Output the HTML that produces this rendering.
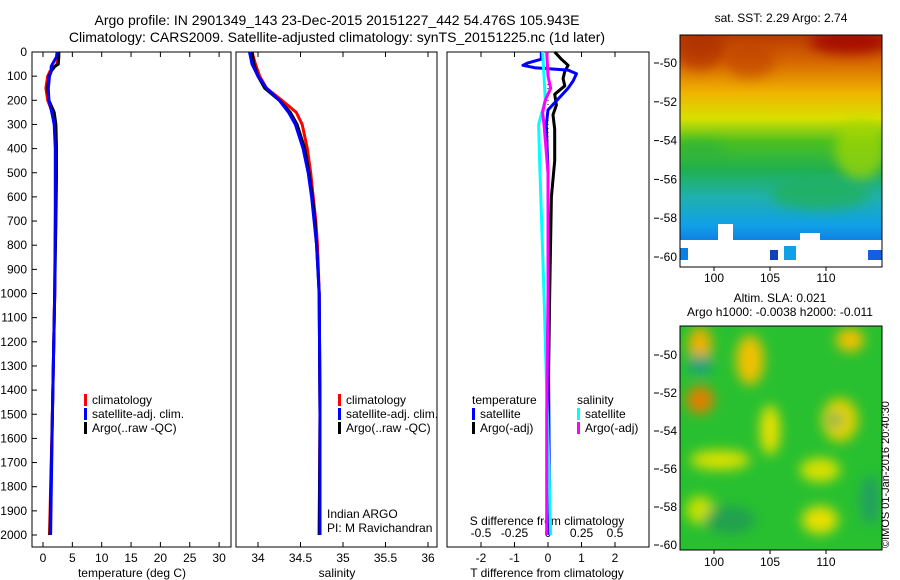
<!DOCTYPE html>
<html><head><meta charset="utf-8">
<style>
body{margin:0;background:#fff;}
svg{display:block;font-family:"Liberation Sans",sans-serif;}
text{fill:#000;}
</style></head>
<body>
<svg id="fig" width="900" height="580" viewBox="0 0 900 580" xmlns="http://www.w3.org/2000/svg">
<defs>
<linearGradient id="sstg" x1="0" y1="0" x2="0" y2="1">
<stop offset="0" stop-color="#b83a00"/>
<stop offset="0.12" stop-color="#d86a00"/>
<stop offset="0.25" stop-color="#f0b400"/>
<stop offset="0.36" stop-color="#d8e000"/>
<stop offset="0.46" stop-color="#4cc020"/>
<stop offset="0.58" stop-color="#20b050"/>
<stop offset="0.7" stop-color="#20b0b0"/>
<stop offset="0.82" stop-color="#10a0e8"/>
<stop offset="0.92" stop-color="#1070e0"/>
<stop offset="1" stop-color="#1040c0"/>
</linearGradient>
<filter id="blur" x="-50%" y="-50%" width="200%" height="200%"><feGaussianBlur stdDeviation="6"/></filter>
<clipPath id="clipB"><rect x="680" y="326" width="202" height="224"/></clipPath>
<clipPath id="clipT"><rect x="680" y="35" width="202" height="232"/></clipPath>
</defs>

<g font-size="14">
<text x="337" y="25" text-anchor="middle">Argo profile: IN 2901349_143 23-Dec-2015 20151227_442 54.476S 105.943E</text>
<text x="337" y="42" text-anchor="middle">Climatology: CARS2009. Satellite-adjusted climatology: synTS_20151225.nc (1d later)</text>
</g>

<g id="axes"></g>
<g id="series"></g>

<!-- SST map -->
<g>
<text x="781" y="22" text-anchor="middle" font-size="12">sat. SST: 2.29 Argo: 2.74</text>
<g clip-path="url(#clipT)">
<rect x="680" y="35" width="202" height="232" fill="url(#sstg)"/>
<ellipse cx="700" cy="50" rx="25" ry="20" fill="#a82800" opacity="0.6" filter="url(#blur)"/>
<ellipse cx="850" cy="42" rx="40" ry="12" fill="#a00000" opacity="0.8" filter="url(#blur)"/>
<ellipse cx="750" cy="60" rx="25" ry="18" fill="#c04000" opacity="0.6" filter="url(#blur)"/>
<ellipse cx="700" cy="150" rx="25" ry="10" fill="#2cb040" opacity="0.6" filter="url(#blur)"/>
<ellipse cx="860" cy="150" rx="25" ry="30" fill="#a8d800" opacity="0.7" filter="url(#blur)"/>
<ellipse cx="820" cy="195" rx="50" ry="15" fill="#20b050" opacity="0.7" filter="url(#blur)"/>
<rect x="680" y="240" width="202" height="27" fill="#fff"/>
<rect x="718" y="224" width="15" height="16" fill="#fff"/>
<rect x="800" y="233" width="20" height="12" fill="#fff"/>
<rect x="680" y="248" width="8" height="12" fill="#1080e0"/>
<rect x="784" y="246" width="12" height="14" fill="#10a0e8"/>
<rect x="770" y="250" width="8" height="10" fill="#1040c0"/>
<rect x="868" y="250" width="14" height="10" fill="#1060e0"/>
</g>
<rect x="680" y="35" width="202" height="232" fill="none" stroke="#000"/>
</g>

<!-- SLA map -->
<g>
<text x="780" y="302" text-anchor="middle" font-size="12">Altim. SLA: 0.021</text>
<text x="780" y="316" text-anchor="middle" font-size="12">Argo h1000: -0.0038 h2000: -0.011</text>
<g clip-path="url(#clipB)">
<rect x="680" y="326" width="202" height="224" fill="#28c030"/>
<g filter="url(#blur)">
<ellipse cx="700" cy="345" rx="12" ry="18" fill="#f0b000"/>
<ellipse cx="750" cy="360" rx="14" ry="25" fill="#f0c000"/>
<ellipse cx="700" cy="400" rx="14" ry="14" fill="#e08000"/>
<ellipse cx="770" cy="430" rx="10" ry="25" fill="#e8e000"/>
<ellipse cx="840" cy="420" rx="18" ry="22" fill="#e0d000"/>
<ellipse cx="835" cy="420" rx="6" ry="6" fill="#20a060"/>
<ellipse cx="850" cy="340" rx="14" ry="12" fill="#f0c000"/>
<ellipse cx="720" cy="460" rx="30" ry="10" fill="#d8e000"/>
<ellipse cx="820" cy="470" rx="20" ry="12" fill="#d8e000"/>
<ellipse cx="820" cy="520" rx="18" ry="14" fill="#e8e000"/>
<ellipse cx="700" cy="510" rx="14" ry="14" fill="#c8e000"/>
<ellipse cx="870" cy="500" rx="10" ry="25" fill="#20a060"/>
<ellipse cx="730" cy="520" rx="25" ry="14" fill="#20a050"/>
<ellipse cx="700" cy="365" rx="12" ry="10" fill="#20a080"/>
</g>
</g>
<rect x="680" y="326" width="202" height="224" fill="none" stroke="#000"/>
</g>
<text transform="translate(889,548) rotate(-90)" font-size="11">©IMOS 01-Jan-2016 20:40:30</text>
</svg>

<script>
// ---- data ----
const depthTicks = [0,100,200,300,400,500,600,700,800,900,1000,1100,1200,1300,1400,1500,1600,1700,1800,1900,2000];
const tempTicks = [0,5,10,15,20,25,30];
const salTicks = [34,34.5,35,35.5,36];
const tdiffTicks = [-2,-1,0,1,2];
const sdiffTicks = [-0.5,-0.25,0,0.25,0.5];
const lonTicks = [100,105,110];
const latTicks = [-50,-52,-54,-56,-58,-60];

const tDepth = [0,20,50,60,80,100,150,200,250,300,400,500,700,1000,1500,2000];
const tArgo = [2.7,2.7,2.6,2.0,1.4,1.0,0.8,1.0,1.9,2.2,2.3,2.3,2.2,2.0,1.6,1.2];
const tClim = [2.5,2.5,2.4,2.0,1.2,0.8,0.5,0.8,1.6,2.0,2.2,2.2,2.1,2.0,1.6,1.1];
const tSat  = [2.4,2.3,1.6,1.4,1.4,1.1,0.9,1.0,1.5,1.9,2.1,2.1,2.1,2.0,1.6,1.3];

const sDepth = [0,50,100,150,200,250,300,400,500,600,700,800,1000,1500,2000];
const sArgo = [33.93,33.95,34.0,34.08,34.25,34.38,34.46,34.55,34.6,34.64,34.67,34.69,34.72,34.73,34.72];
const sClim = [33.93,33.97,34.02,34.1,34.28,34.45,34.52,34.58,34.62,34.65,34.68,34.7,34.72,34.73,34.72];
const sSat  = [33.9,33.93,34.0,34.1,34.25,34.36,34.44,34.53,34.59,34.63,34.66,34.69,34.72,34.73,34.73];

const dtSatDepth = [0,30,45,55,65,75,90,120,150,180,210,240,300,500,1000,2000];
const dtSat = [-0.2,-0.2,-0.6,-0.75,-0.4,0.6,0.85,0.75,0.6,0.4,0.2,0,-0.05,0,0,0.05];
const dtArgoDepth = [0,30,55,80,110,140,175,220,260,320,450,600,1000,1500,2000];
const dtArgo = [0.2,0.4,0.6,0.5,0.45,0.5,0.2,0.25,0.15,0.2,0.2,0.1,0.05,0,0];
const dsSatDepth = [0,100,200,300,500,1000,2000];
const dsSat = [-0.04,-0.03,-0.02,-0.07,-0.06,-0.03,0.02];
const dsArgoDepth = [0,100,150,200,250,300,500,1000,1500,2000];
const dsArgo = [-0.01,0.0,0.02,-0.02,-0.04,-0.03,0,0,-0.01,-0.01];

// ---- scales ----
const NS='http://www.w3.org/2000/svg';
const yD = d => 52 + d*0.2415;
const xT = t => 43 + t*5.87;
const xS = s => 258 + (s-34)*85;
const xDT = v => 548 + v*33.5;
const xDS = v => 548 + v*134;
const xLon = l => 714 + (l-100)*11.2;
const yLatT = l => 63 + (-50-l)*19.4;
const yLatB = l => 355 + (-50-l)*19.0;

const axes=document.getElementById('axes'), series=document.getElementById('series');
function el(tag, attrs, parent){const e=document.createElementNS(NS,tag);for(const k in attrs)e.setAttribute(k,attrs[k]);parent.appendChild(e);return e;}
function txt(x,y,s,anchor,size,parent){const t=el('text',{x:x,y:y,'text-anchor':anchor,'font-size':size},parent);t.textContent=s;return t;}

const panels=[{x0:32,x1:231,name:'temperature-panel'},{x0:236,x1:437,name:'salinity-panel'},{x0:447,x1:649,name:'difference-panel'}];
panels.forEach(p=>{
  const r=el('rect',{x:p.x0,y:52,width:p.x1-p.x0,height:495,fill:'none',stroke:'#000','stroke-width':1},axes);
  
  
});
// depth ticks
depthTicks.forEach(d=>{
  const y=yD(d);
  el('line',{x1:32,x2:37,y1:y,y2:y,stroke:'#000'},axes);
  const t=txt(27,y+4,String(d),'end',12,axes);
  
  
});
function xTicks(ticks,fx,labelY,size){
  ticks.forEach(v=>{
    const x=fx(v);
    el('line',{x1:x,x2:x,y1:547,y2:542,stroke:'#000'},axes);
    el('line',{x1:x,x2:x,y1:52,y2:57,stroke:'#000'},axes);
    const t=txt(x,labelY,String(v),'middle',size,axes);
    
    
  });
}
xTicks(tempTicks,xT,562,12);
xTicks(salTicks,xS,562,12);
xTicks(tdiffTicks,xDT,562,12);
sdiffTicks.forEach(v=>{
  const t=txt(xDS(v),537,String(v),'middle',12,axes);
  
  
});
[['temperature (deg C)',132,'temperature-axis-title'],['salinity',337,'salinity-axis-title'],['T difference from climatology',547,'t-diff-axis-title']].forEach(a=>{
  const t=txt(a[1],577,a[0],'middle',12,axes);
  
  
});
const st=txt(547,525,'S difference from climatology','middle',12,axes);



// map ticks
lonTicks.forEach(l=>{
  [[267,282],[550,566]].forEach(p=>{
    const x=xLon(l);
    el('line',{x1:x,x2:x,y1:p[0],y2:p[0]+4,stroke:'#000'},axes);
    const t=txt(x,p[1],String(l),'middle',12,axes);
    
    
  });
});
latTicks.forEach(l=>{
  [yLatT(l),yLatB(l)].forEach(y=>{
    el('line',{x1:654,x2:659,y1:y,y2:y,stroke:'#000'},axes);
    const t=txt(677,y+4,String(l),'end',12,axes);
    
    
  });
});

// series
function line(depths,vals,fx,color,w,name,dash){
  const pts=depths.map((d,i)=>fx(vals[i]).toFixed(1)+','+yD(d).toFixed(1)).join(' ');
  const e=el('polyline',{points:pts,fill:'none',stroke:color,'stroke-width':w,'stroke-linejoin':'round'},series);
  if(dash) e.setAttribute('stroke-dasharray',dash);
  
  
}
line([0,2000],[0,0],xDT,'#000',1,'zero-line','1,3');
line(tDepth,tClim,xT,'#f00',3,'temp-climatology-line');
line(tDepth,tArgo,xT,'#000',3,'temp-argo-line');
line(tDepth,tSat,xT,'#00f',3,'temp-satellite-line');
line(sDepth,sClim,xS,'#f00',3,'sal-climatology-line');
line(sDepth,sArgo,xS,'#000',3,'sal-argo-line');
line(sDepth,sSat,xS,'#00f',3,'sal-satellite-line');
line(dtArgoDepth,dtArgo,xDT,'#000',3,'tdiff-argo-line');
line(dtSatDepth,dtSat,xDT,'#00f',3,'tdiff-satellite-line');
line(dsSatDepth,dsSat,xDS,'#0ff',3,'sdiff-satellite-line');
line(dsArgoDepth,dsArgo,xDS,'#f0f',3,'sdiff-argo-line');

// legends
function legend(x,y,items,name){
  const g=el('g',{},series);
  
  
  items.forEach((it,i)=>{
    if(it[1]) el('rect',{x:x,y:y+i*14-10,width:3,height:12,fill:it[1]},g);
    txt(x+(it[1]?8:0),y+i*14,it[0],'start',12,g);
  });
}
const L=[['climatology','#f00'],['satellite-adj. clim.','#00f'],['Argo(..raw -QC)','#000']];
legend(84,404,L,'temperature-legend');
legend(338,404,L,'salinity-legend');
legend(472,404,[['temperature',null],['satellite','#00f'],['Argo(-adj)','#000']],'tdiff-legend');
legend(577,404,[['salinity',null],['satellite','#0ff'],['Argo(-adj)','#f0f']],'sdiff-legend');
const c1=txt(327,518,'Indian ARGO','start',12,series);


const c2=txt(327,532,'PI: M Ravichandran','start',12,series);


</script>
</body></html>
